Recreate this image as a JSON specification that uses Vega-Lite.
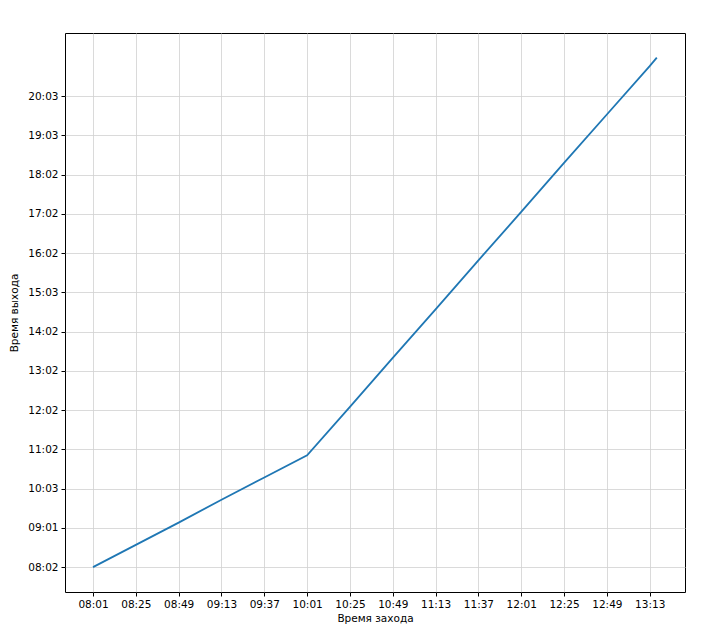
{
  "$schema": "https://vega.github.io/schema/vega-lite/v6.json",
  "width": 620,
  "height": 559,
  "autosize": {"type": "none"},
  "padding": {"left": 65, "top": 33, "right": 24, "bottom": 46},
  "background": "white",
  "config": {
    "font": "DejaVu Sans",
    "view": {"stroke": "#000000", "strokeWidth": 1},
    "axis": {
      "labelFont": "DejaVu Sans",
      "titleFont": "DejaVu Sans",
      "labelFontSize": 10.5,
      "titleFontSize": 10.5,
      "titleFontWeight": "normal",
      "labelColor": "#000000",
      "titleColor": "#000000",
      "tickColor": "#000000",
      "tickSize": 4,
      "labelPadding": 3,
      "domain": false,
      "gridColor": "#d0d0d0",
      "gridWidth": 0.8
    }
  },
  "data": {
    "values": [
      {"entry": 481, "exit": 482},
      {"entry": 505, "exit": 516},
      {"entry": 529, "exit": 550},
      {"entry": 553, "exit": 585},
      {"entry": 577, "exit": 619},
      {"entry": 601, "exit": 653},
      {"entry": 625, "exit": 727},
      {"entry": 649, "exit": 802},
      {"entry": 673, "exit": 876},
      {"entry": 697, "exit": 951},
      {"entry": 721, "exit": 1025},
      {"entry": 745, "exit": 1100},
      {"entry": 769, "exit": 1174},
      {"entry": 793, "exit": 1248},
      {"entry": 797, "exit": 1261}
    ]
  },
  "mark": {"type": "line", "color": "#1f77b4", "strokeWidth": 1.8, "clip": true},
  "encoding": {
    "x": {
      "field": "entry",
      "type": "quantitative",
      "scale": {"domain": [465.3, 812.8], "nice": false, "zero": false},
      "axis": {
        "title": "Время захода",
        "values": [481, 505, 529, 553, 577, 601, 625, 649, 673, 697, 721, 745, 769, 793],
        "labelExpr": "(floor(datum.value/60) < 10 ? '0' : '') + floor(datum.value/60) + ':' + (datum.value % 60 < 10 ? '0' : '') + (datum.value % 60)",
        "titlePadding": 4
      }
    },
    "y": {
      "field": "exit",
      "type": "quantitative",
      "scale": {"domain": [443.9, 1298.6], "nice": false, "zero": false},
      "axis": {
        "title": "Время выхода",
        "values": [482, 542, 602, 662, 722, 782, 842, 902, 962, 1022, 1082, 1142, 1202],
        "labelExpr": "['08:02','09:01','10:03','11:02','12:02','13:02','14:02','15:03','16:02','17:02','18:02','19:03','20:03'][round((datum.value-482)/60)]",
        "titlePadding": 8
      }
    }
  }
}
